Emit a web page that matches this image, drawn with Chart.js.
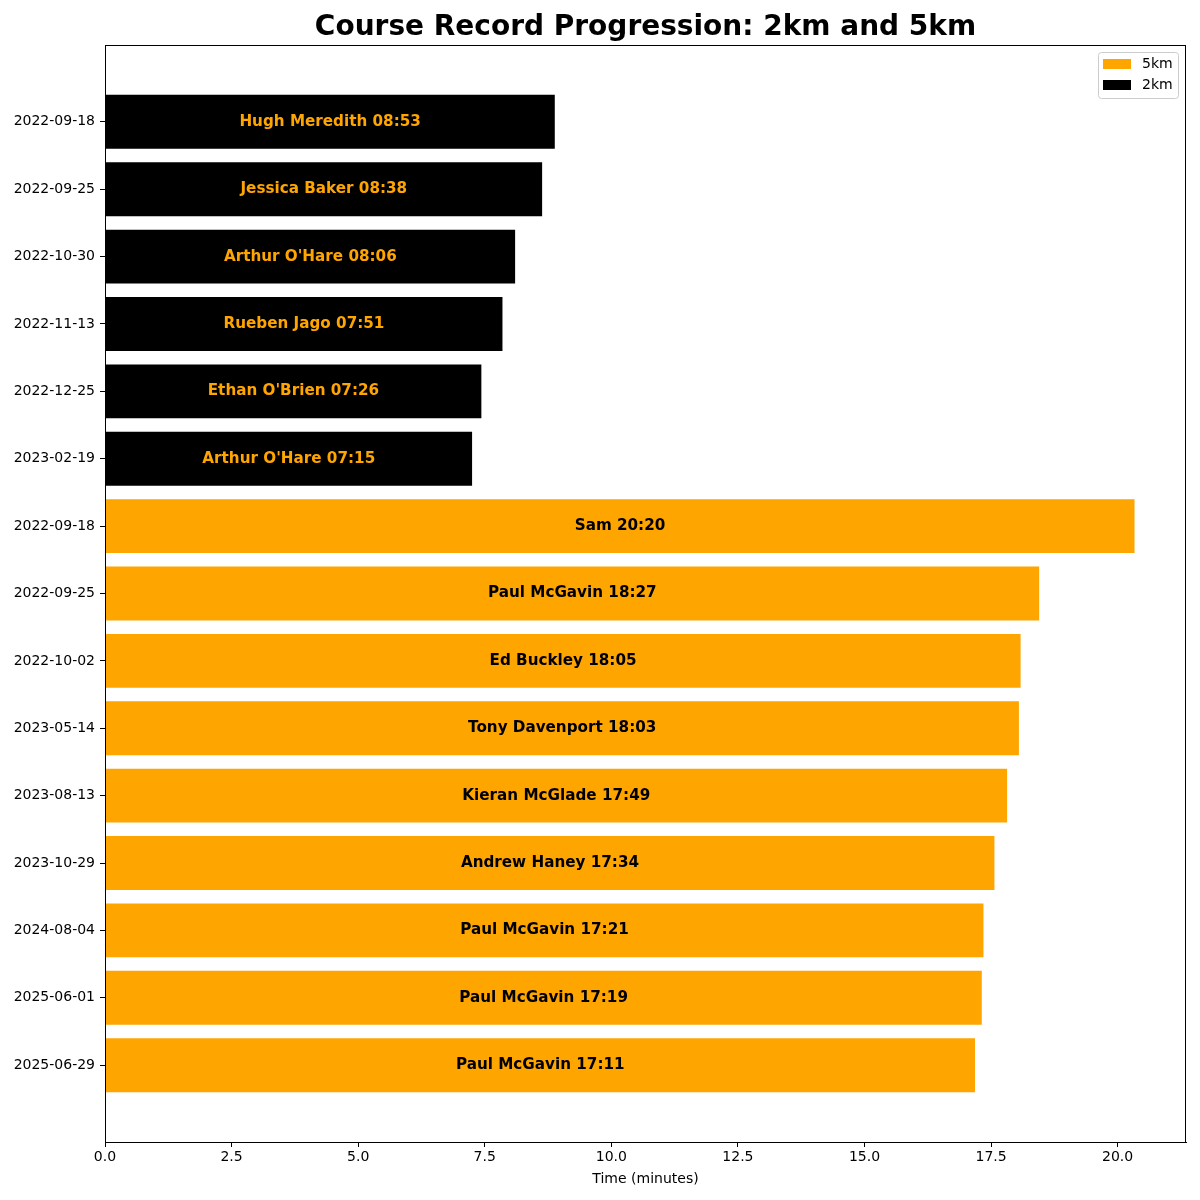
<!DOCTYPE html>
<html>
<head>
<meta charset="utf-8">
<script src="https://cdn.jsdelivr.net/npm/chart.js@4/dist/chart.umd.min.js"></script>
<style>
  html, body { margin: 0; padding: 0; background: #fff; }
  #wrap { width: 1200px; height: 1200px; }
</style>
</head>
<body>
<div id="wrap"><canvas id="grafico" width="1200" height="1200"></canvas></div>
<script>
// Datos del gráfico
const fechas2km = ["2022-09-18", "2022-09-25", "2022-10-30", "2022-11-13", "2022-12-25", "2023-02-19"];
const nombres2km = ["Hugh Meredith", "Jessica Baker", "Arthur O'Hare", "Rueben Jago", "Ethan O'Brien", "Arthur O'Hare"];
const tiempos2km = ["08:53", "08:38", "08:06", "07:51", "07:26", "07:15"];

const fechas5km = ["2022-09-18", "2022-09-25", "2022-10-02", "2023-05-14", "2023-08-13", "2023-10-29", "2024-08-04", "2025-06-01", "2025-06-29"];
const nombres5km = ["Sam", "Paul McGavin", "Ed Buckley", "Tony Davenport", "Kieran McGlade", "Andrew Haney", "Paul McGavin", "Paul McGavin", "Paul McGavin"];
const tiempos5km = ["20:20", "18:27", "18:05", "18:03", "17:49", "17:34", "17:21", "17:19", "17:11"];

const xTicks = [0, 2.5, 5, 7.5, 10, 12.5, 15, 17.5, 20];

// "mm:ss" -> minutos
const aMinutos = (t) => {
  const [m, s] = t.split(":").map(Number);
  return m + s / 60;
};

const etiquetasY = fechas2km.concat(fechas5km);

const datos2km = tiempos2km.map((t, i) => ({ x: aMinutos(t), y: i }));
const datos5km = tiempos5km.map((t, i) => ({ x: aMinutos(t), y: fechas2km.length + i }));

const FUENTE = "'DejaVu Sans', sans-serif";
Chart.defaults.font.family = FUENTE;
Chart.defaults.font.size = 14;
Chart.defaults.color = "#000";

// Plugin: título, marco, textos en barras y leyenda
const extras = {
  id: "extras",
  afterDatasetsDraw(chart) {
    const ctx = chart.ctx;

    // Textos dentro de las barras
    ctx.save();
    ctx.font = "bold 15.2px " + FUENTE;
    ctx.textAlign = "center";
    ctx.textBaseline = "middle";
    chart.data.datasets.forEach((ds, di) => {
      const meta = chart.getDatasetMeta(di);
      meta.data.forEach((bar, i) => {
        ctx.fillStyle = ds.textColor;
        ctx.fillText(ds.nombres[i] + " " + ds.tiempos[i], (bar.x + bar.base) / 2, bar.y);
      });
    });
    ctx.restore();
  },
  afterDraw(chart) {
    const ctx = chart.ctx;
    const area = chart.chartArea;

    // Marco completo
    ctx.save();
    ctx.strokeStyle = "#000";
    ctx.lineWidth = 1;
    ctx.strokeRect(area.left + 0.5, area.top + 0.5, area.right - area.left - 1, area.bottom - area.top);
    ctx.restore();

    // Título
    ctx.save();
    ctx.font = "bold 28px " + FUENTE;
    ctx.textAlign = "center";
    ctx.textBaseline = "middle";
    ctx.fillStyle = "#000";
    ctx.fillText("Course Record Progression: 2km and 5km", (area.left + area.right) / 2, 28);
    ctx.restore();

    // Leyenda (arriba a la derecha, dentro del área)
    const lx = 1098, ly = 52, lw = 80, lh = 46;
    ctx.save();
    ctx.fillStyle = "rgba(255,255,255,0.8)";
    ctx.strokeStyle = "#cccccc";
    ctx.lineWidth = 1;
    ctx.beginPath();
    ctx.roundRect(lx + 0.5, ly + 0.5, lw, lh, 3);
    ctx.fill();
    ctx.stroke();
    const items = [chart.data.datasets[1], chart.data.datasets[0]];
    ctx.font = "14px " + FUENTE;
    ctx.textBaseline = "middle";
    ctx.textAlign = "left";
    items.forEach((ds, i) => {
      const cy = 64 + i * 21;
      ctx.fillStyle = ds.backgroundColor;
      ctx.fillRect(1103, cy - 5, 28, 10);
      ctx.fillStyle = "#000";
      ctx.fillText(ds.label, 1142, cy);
    });
    ctx.restore();
  }
};

new Chart(document.getElementById("grafico"), {
  type: "bar",
  data: {
    datasets: [
      {
        label: "2km",
        data: datos2km,
        nombres: nombres2km,
        tiempos: tiempos2km,
        backgroundColor: "#000000",
        textColor: "#FFA500",
        grouped: false,
        barPercentage: 0.8,
        categoryPercentage: 1.0,
      },
      {
        label: "5km",
        data: datos5km,
        nombres: nombres5km,
        tiempos: tiempos5km,
        backgroundColor: "#FFA500",
        textColor: "#000000",
        grouped: false,
        barPercentage: 0.8,
        categoryPercentage: 1.0,
      },
    ],
  },
  options: {
    indexAxis: "y",
    responsive: false,
    animation: false,
    devicePixelRatio: 1,
    layout: { padding: { top: 45, right: 14, bottom: 12, left: 0 } },
    plugins: {
      legend: { display: false },
      title: { display: false },
      tooltip: { enabled: false },
    },
    scales: {
      x: {
        type: "linear",
        min: 0,
        max: 21.35,
        afterBuildTicks: (scale) => { scale.ticks = xTicks.map((v) => ({ value: v })); },
        afterFit: (scale) => { scale.height = 46; },
        ticks: { callback: (v) => v.toFixed(1), padding: 2, maxRotation: 0, autoSkip: false },
        grid: { drawOnChartArea: false, drawTicks: true, tickLength: 5, color: "#000" },
        border: { display: true, color: "#000" },
        title: { display: true, text: "Time (minutes)", padding: { top: 2, bottom: 0 } },
      },
      y: {
        type: "linear",
        reverse: true,
        offset: false,
        min: -1.14,
        max: etiquetasY.length - 1 + 1.14,
        afterBuildTicks: (scale) => { scale.ticks = etiquetasY.map((_, i) => ({ value: i })); },
        afterFit: (scale) => { scale.width = 105; },
        ticks: { callback: (v) => etiquetasY[v], padding: 5, autoSkip: false },
        grid: { offset: false, drawOnChartArea: false, drawTicks: true, tickLength: 5, color: "#000" },
        border: { display: true, color: "#000" },
      },
    },
  },
  plugins: [extras],
});
</script>
</body>
</html>
